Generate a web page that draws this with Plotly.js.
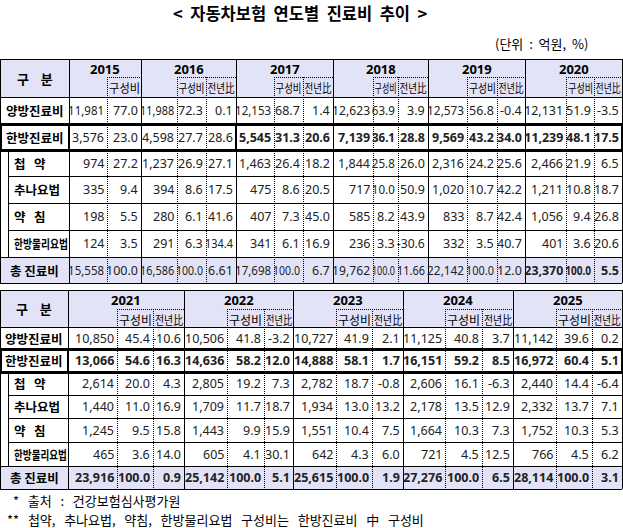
<!DOCTYPE html>
<html><head><meta charset="utf-8">
<script src="https://cdn.plot.ly/plotly-3.0.1.min.js"></script>
<style>html,body{margin:0;padding:0;background:#fff;}#chart{width:623px;height:528px;}</style>
</head><body><div id="chart"></div>
<script>
// ---------------- DATA ----------------
const title = '< 자동차보험 연도별 진료비 추이 >';
const unitNote = '(단위 : 억원, %)';
const note1 = '* 출처 : 건강보험심사평가원';
const note2 = '** 첩약, 추나요법, 약침, 한방물리요법 구성비는 한방진료비 中 구성비';
const headerLabel = '구 분';
const subHeaders = ['구성비', '전년比'];
const years = [2015, 2016, 2017, 2018, 2019, 2020, 2021, 2022, 2023, 2024, 2025];
const rowLabels = ['양방진료비', '한방진료비', '첩 약', '추나요법', '약 침', '한방물리요법', '총 진료비'];

const amtYangbang = [11981, 11988, 12153, 12623, 12573, 12131, 10850, 10506, 10727, 11125, 11142];
const amtHanbang  = [3576, 4598, 5545, 7139, 9569, 11239, 13066, 14636, 14888, 16151, 16972];
const amtChubyak  = [974, 1237, 1463, 1844, 2316, 2466, 2614, 2805, 2782, 2606, 2440];
const amtChuna    = [335, 394, 475, 717, 1020, 1211, 1440, 1709, 1934, 2178, 2332];
const amtYakchim  = [198, 280, 407, 585, 833, 1056, 1245, 1443, 1551, 1664, 1752];
const amtPhysio   = [124, 291, 341, 236, 332, 401, 465, 605, 642, 721, 766];
const amtTotal    = [15558, 16586, 17698, 19762, 22142, 23370, 23916, 25142, 25615, 27276, 28114];

const shareYangbang = [77.0, 72.3, 68.7, 63.9, 56.8, 51.9, 45.4, 41.8, 41.9, 40.8, 39.6];
const shareHanbang  = [23.0, 27.7, 31.3, 36.1, 43.2, 48.1, 54.6, 58.2, 58.1, 59.2, 60.4];
const shareChubyak  = [27.2, 26.9, 26.4, 25.8, 24.2, 21.9, 20.0, 19.2, 18.7, 16.1, 14.4];
const shareChuna    = [9.4, 8.6, 8.6, 10.0, 10.7, 10.8, 11.0, 11.7, 13.0, 13.5, 13.7];
const shareYakchim  = [5.5, 6.1, 7.3, 8.2, 8.7, 9.4, 9.5, 9.9, 10.4, 10.3, 10.3];
const sharePhysio   = [3.5, 6.3, 6.1, 3.3, 3.5, 3.6, 3.6, 4.1, 4.3, 4.5, 4.5];
const shareTotal    = [100.0, 100.0, 100.0, 100.0, 100.0, 100.0, 100.0, 100.0, 100.0, 100.0, 100.0];

const yoyYangbang = [null, 0.1, 1.4, 3.9, -0.4, -3.5, -10.6, -3.2, 2.1, 3.7, 0.2];
const yoyHanbang  = [null, 28.6, 20.6, 28.8, 34.0, 17.5, 16.3, 12.0, 1.7, 8.5, 5.1];
const yoyChubyak  = [null, 27.1, 18.2, 26.0, 25.6, 6.5, 4.3, 7.3, -0.8, -6.3, -6.4];
const yoyChuna    = [null, 17.5, 20.5, 50.9, 42.2, 18.7, 16.9, 18.7, 13.2, 12.9, 7.1];
const yoyYakchim  = [null, 41.6, 45.0, 43.9, 42.4, 26.8, 15.8, 15.9, 7.5, 7.3, 5.3];
const yoyPhysio   = [null, 134.4, 16.9, -30.6, 40.7, 20.6, 14.0, 30.1, 6.0, 12.5, 6.2];
const yoyTotal    = [null, 6.61, 6.7, 11.66, 12.0, 5.5, 0.9, 5.1, 1.9, 6.5, 3.1];

// ---------------- LAYOUT GEOMETRY ----------------
const amounts = [amtYangbang, amtHanbang, amtChubyak, amtChuna, amtYakchim, amtPhysio, amtTotal];
const shares = [shareYangbang, shareHanbang, shareChubyak, shareChuna, shareYakchim, sharePhysio, shareTotal];
const yoys = [yoyYangbang, yoyHanbang, yoyChubyak, yoyChuna, yoyYakchim, yoyPhysio, yoyTotal];

const LAV = '#e3e3f8';
const tables = [
  { yi: [0,1,2,3,4,5], labelR: 69, right: 622,
    cols: [[69,107,null,141],[141,177,206,236],[236,274,303,333],[333,373,398,428],[428,467,497,525],[525,566,594,622]],
    rows: [59, 97, 124, 150, 176, 203, 230, 257, 283], subTop: 77, yearY: 68.5, subY: 87.5, thickX: [236] },
  { yi: [6,7,8,9,10], labelR: 68, right: 622,
    cols: [[68,117,153,184],[184,227,264,293],[293,336,372,403],[403,445,482,513],[513,556,592,622]],
    rows: [290, 327, 349, 372, 395, 418, 442, 466, 489], subTop: 309, yearY: 299.5, subY: 319, thickX: [] }
];

function fmtAmt(v) { return v.toLocaleString('en-US'); }
function fmtShare(v) { return v.toFixed(1); }
function fmtYoy(v) {
  if (v === null) return '';
  return Math.abs(v * 10 - Math.round(v * 10)) > 1e-6 ? v.toFixed(2) : v.toFixed(1);
}
function wide(s, n) { return s.split(' ').join('\u00a0'.repeat(n)); }

const shapes = [];
const ann = [];
const squeeze = [];
function rect(x0, y0, x1, y1, fill) {
  shapes.push({type:'rect', xref:'x', yref:'y', x0, y0, x1, y1, fillcolor: fill, line:{width:0}, layer:'below'});
}
function hl(x0, x1, y, w, dash) {
  const yy = w % 2 === 1 ? y + 0.5 : y;
  shapes.push({type:'line', xref:'x', yref:'y', x0, x1, y0: yy, y1: yy, line:{color:'#000', width:w, dash: dash || 'solid'}});
}
function vl(x, y0, y1, w, dash) {
  const xx = w % 2 === 1 ? x + 0.5 : x;
  shapes.push({type:'line', xref:'x', yref:'y', x0: xx, x1: xx, y0, y1, line:{color:'#000', width:w, dash: dash || 'solid'}});
}
function txt(x, y, s, size, opts) {
  opts = opts || {};
  const anchor = opts.anchor || 'right';
  ann.push({xref:'x', yref:'y', x, y, text: opts.bold ? '<b>' + s + '</b>' : s, showarrow:false,
    xanchor: anchor, yanchor:'middle',
    font:{family: opts.family || 'Noto Sans, Noto Sans CJK KR, sans-serif', size, color: opts.color || '#222'}});
  if (opts.maxW) squeeze.push({idx: ann.length - 1, maxW: opts.maxW, anchor});
}
const KR = 'Noto Sans CJK KR, Noto Sans, sans-serif';
const DOT = '1px,1px';
const NUM = 12.5;

tables.forEach((T, ti) => {
  const R = T.rows, xEnd = T.right;
  rect(0, R[0], xEnd, R[1], LAV);
  rect(0, R[7], xEnd, R[8], LAV);
  hl(0, xEnd, R[0], 1);
  hl(0, xEnd, R[1], 1);
  hl(8, xEnd, R[4], 1); hl(8, xEnd, R[5], 1); hl(8, xEnd, R[6], 1);
  hl(0, xEnd, R[7], 1);
  hl(0, xEnd, R[8], 1);
  vl(0, R[0], R[8], 1);
  vl(T.labelR, R[0], R[8], 1);
  vl(8, R[3], R[7], 1);
  T.cols.forEach(c => {
    vl(c[3], R[0], R[8], 1);
    hl(c[1], c[3], T.subTop, 1, DOT);
    vl(c[1], T.subTop, R[8], 1, DOT);
    if (c[2] !== null) vl(c[2], T.subTop, R[8], 1, DOT);
  });
  hl(0, xEnd + 1, R[2], 3);
  hl(0, xEnd + 1, R[3], 3);
  vl(1, R[2], R[3], 2);
  vl(T.labelR, R[2], R[3], 2);
  vl(xEnd, R[2], R[3], 2);
  T.thickX.forEach(x => vl(x, R[2], R[3], 2));

  txt(T.labelR / 2, (R[0] + R[1]) / 2, wide(headerLabel, 4), 13, {anchor:'center', bold:true, family: KR, color:'#000'});
  T.cols.forEach((c, k) => {
    const yIdx = T.yi[k];
    txt((c[0] + c[3]) / 2, T.yearY, String(years[yIdx]), 13, {anchor:'center', bold:true, color:'#000'});
    const e1 = c[2] !== null ? c[2] : c[3];
    txt((c[1] + e1) / 2, T.subY, subHeaders[0], 12, {anchor:'center', family: KR, color:'#000', maxW: e1 - c[1] - 3});
    if (c[2] !== null) {
      txt((c[2] + c[3]) / 2, T.subY, subHeaders[1], 12, {anchor:'center', family: KR, color:'#000', maxW: c[3] - c[2] - 3});
    }
  });

  rowLabels.forEach((lab, r) => {
    const yc = (R[r + 1] + R[r + 2]) / 2;
    const isSub = r >= 2 && r <= 5;
    if (isSub) {
      txt(12, yc, wide(lab, 3), 12.5, {anchor:'left', bold:true, family: KR, color:'#000', maxW: T.labelR - 15});
    } else {
      txt(T.labelR / 2, yc, wide(lab, 1), 12.5, {anchor:'center', bold:true, family: KR, color:'#000', maxW: T.labelR - 4});
    }
    T.cols.forEach((c, k) => {
      const yIdx = T.yi[k];
      let bold = false;
      if (ti === 1 && (r === 1 || r === 6)) bold = true;
      if (ti === 0 && r === 1 && years[yIdx] >= 2017) bold = true;
      if (ti === 0 && r === 6 && years[yIdx] === 2020) bold = true;
      txt(c[1] - 1, yc, fmtAmt(amounts[r][yIdx]), NUM, {bold, maxW: c[1] - c[0] - 2});
      const e2 = c[2] !== null ? c[2] : c[3];
      txt(e2 - 1, yc, fmtShare(shares[r][yIdx]), NUM, {bold, maxW: e2 - c[1] - 2});
      if (c[2] !== null) {
        txt(c[3] - 1, yc, fmtYoy(yoys[r][yIdx]), NUM, {bold, maxW: c[3] - c[2] - 2});
      }
    });
  });
});

txt(300, 13, wide(title, 2), 16.5, {anchor:'center', bold:true, family: KR, color:'#000'});
txt(590, 43, wide(unitNote, 2), 13, {anchor:'right', family: KR, color:'#000'});
txt(11, 500, wide(note1, 3), 13, {anchor:'left', family: KR, color:'#000'});
txt(5, 519, wide(note2, 3), 13, {anchor:'left', family: KR, color:'#000'});

const layout = {
  width: 623, height: 528,
  margin: {l:0, r:0, t:0, b:0, pad:0},
  paper_bgcolor: '#fff', plot_bgcolor: '#fff',
  xaxis: {range:[0, 623], visible:false, fixedrange:true},
  yaxis: {range:[528, 0], visible:false, fixedrange:true},
  showlegend: false,
  shapes, annotations: ann
};

// horizontally condense texts wider than their cell (the reference squeezes them)
function applySqueeze() {
  const groups = document.querySelectorAll('#chart g.annotation');
  const byIdx = {};
  groups.forEach(g => { byIdx[g.getAttribute('data-index')] = g; });
  squeeze.forEach(sq => {
    const g = byIdx[String(sq.idx)];
    if (!g) return;
    const t = g.querySelector('text.annotation-text') || g.querySelector('text');
    if (!t) return;
    let bb;
    try { bb = t.getBBox(); } catch (e) { return; }
    if (!(bb.width > sq.maxW)) return;
    const s = sq.maxW / bb.width;
    const ax = sq.anchor === 'right' ? bb.x + bb.width : (sq.anchor === 'left' ? bb.x : bb.x + bb.width / 2);
    const prev = t.getAttribute('transform') || '';
    t.setAttribute('transform', (prev + ' translate(' + ax.toFixed(2) + ',0) scale(' + s.toFixed(4) + ',1) translate(' + (-ax).toFixed(2) + ',0)').trim());
  });
}

Plotly.newPlot('chart', [{type:'scatter', x:[], y:[], hoverinfo:'skip'}], layout, {staticPlot:true, displayModeBar:false})
  .then(() => { applySqueeze(); });
</script>
</body></html>
